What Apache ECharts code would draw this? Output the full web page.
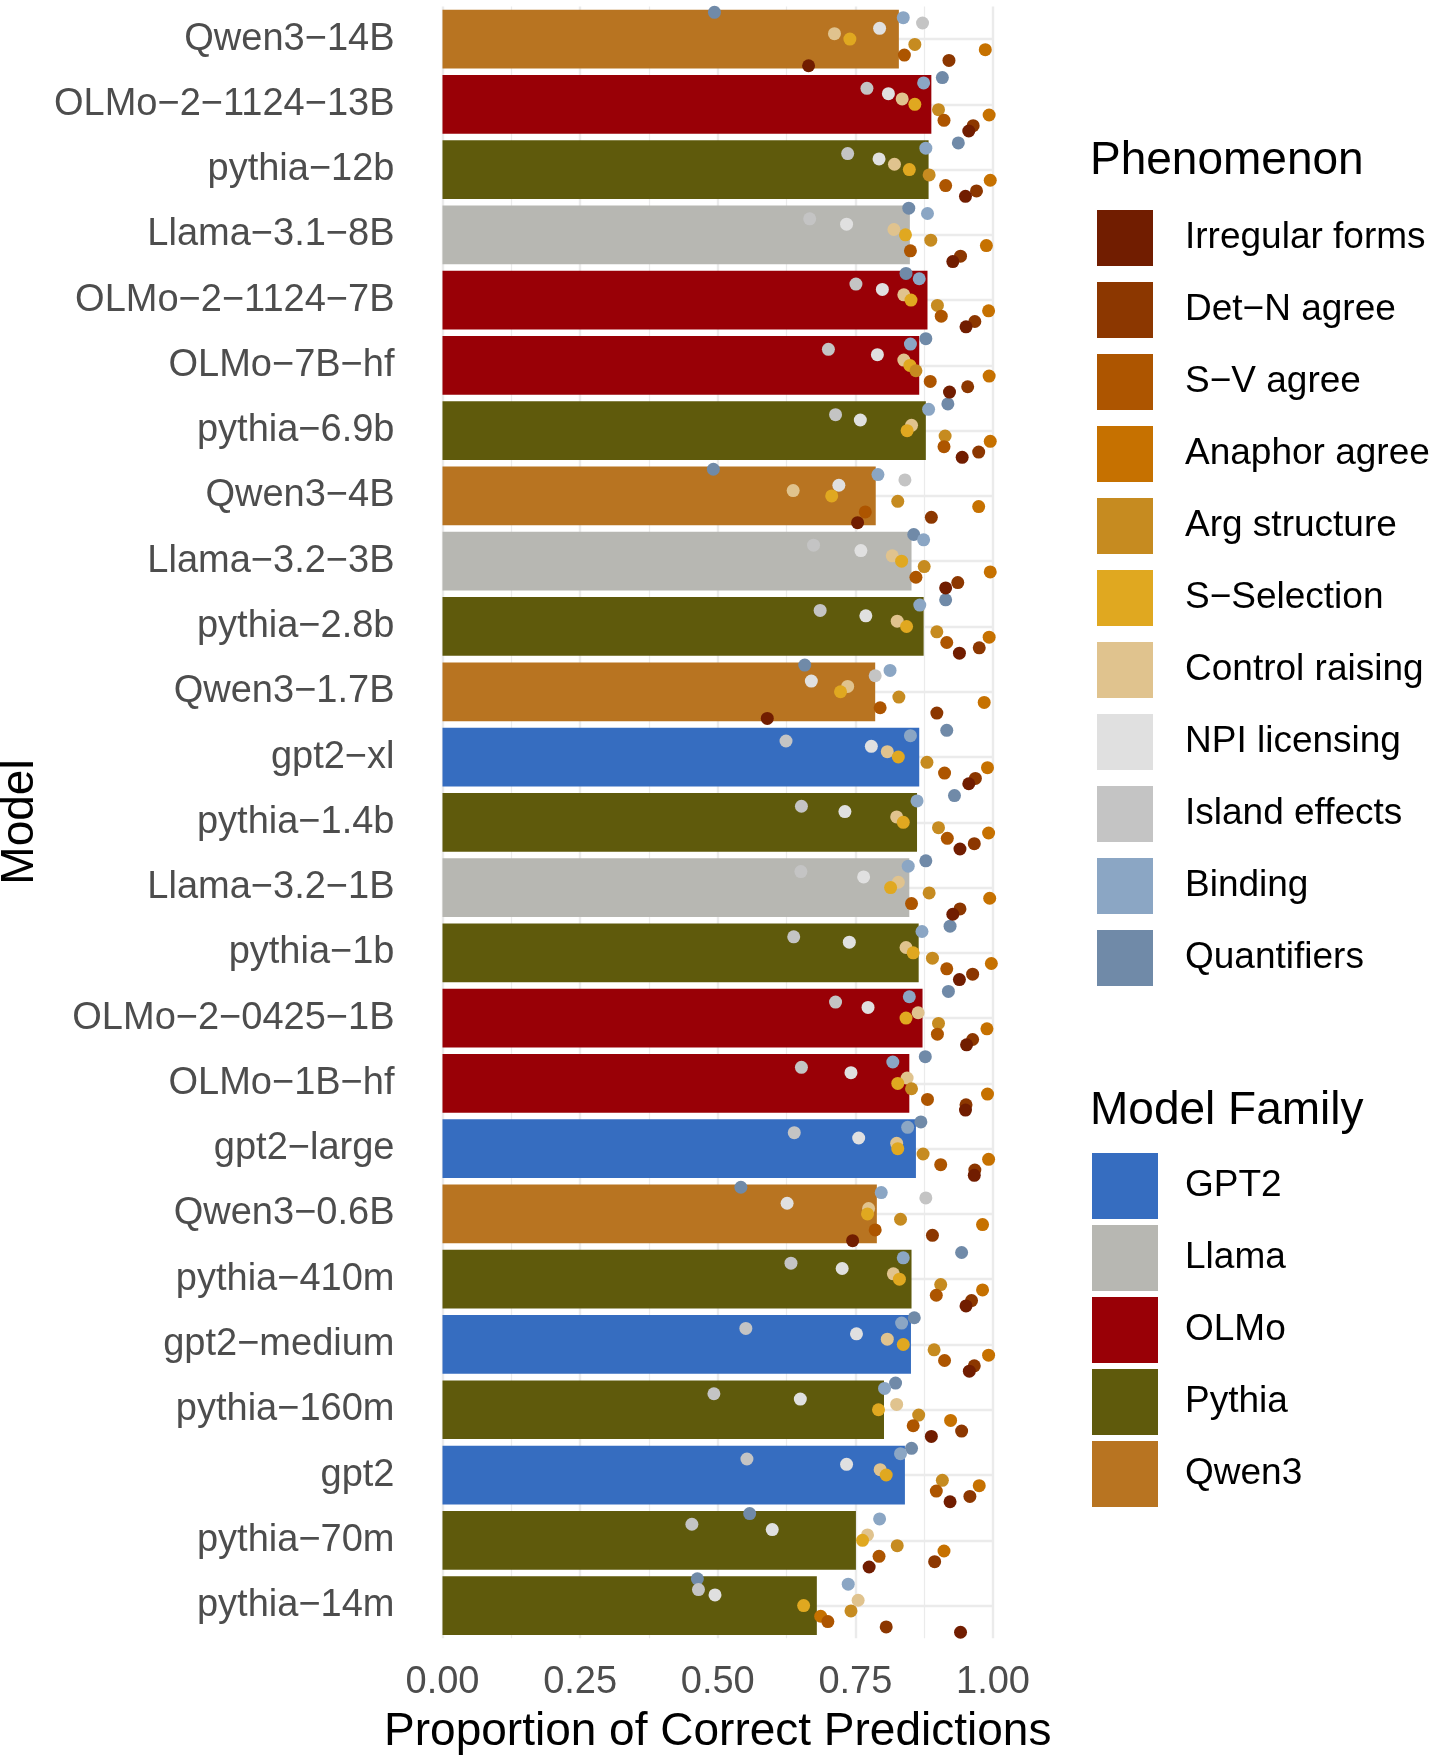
<!DOCTYPE html>
<html>
<head>
<meta charset="utf-8">
<title>Proportion of correct predictions by model</title>
<script src="https://cdn.jsdelivr.net/npm/echarts@6/dist/echarts.min.js"></script>
<style>
  html, body { margin: 0; padding: 0; background: #fff; }
  #chart { width: 1431px; height: 1755px; }
</style>
</head>
<body>
<div id="chart"></div>
<script>
// models, top to bottom
var models = ['Qwen3−14B', 'OLMo−2−1124−13B', 'pythia−12b', 'Llama−3.1−8B', 'OLMo−2−1124−7B', 'OLMo−7B−hf',
  'pythia−6.9b', 'Qwen3−4B', 'Llama−3.2−3B', 'pythia−2.8b', 'Qwen3−1.7B', 'gpt2−xl', 'pythia−1.4b',
  'Llama−3.2−1B', 'pythia−1b', 'OLMo−2−0425−1B', 'OLMo−1B−hf', 'gpt2−large', 'Qwen3−0.6B', 'pythia−410m',
  'gpt2−medium', 'pythia−160m', 'gpt2', 'pythia−70m', 'pythia−14m'];
var modelFamily = ['Qwen3', 'OLMo', 'Pythia', 'Llama', 'OLMo', 'OLMo', 'Pythia', 'Qwen3', 'Llama', 'Pythia',
  'Qwen3', 'GPT2', 'Pythia', 'Llama', 'Pythia', 'OLMo', 'OLMo', 'GPT2', 'Qwen3', 'Pythia', 'GPT2', 'Pythia',
  'GPT2', 'Pythia', 'Pythia'];
var overall = [0.829, 0.888, 0.883, 0.849, 0.881, 0.866, 0.878, 0.787, 0.852, 0.874, 0.786, 0.866, 0.862,
  0.848, 0.865, 0.872, 0.848, 0.860, 0.789, 0.852, 0.851, 0.802, 0.840, 0.751, 0.680];

// per phenomenon scores, same model order
var irregularForms = [0.665, 0.956, 0.950, 0.927, 0.951, 0.921, 0.944, 0.754, 0.914, 0.939, 0.590, 0.956, 0.940, 0.927, 0.939, 0.952, 0.950, 0.966, 0.745, 0.951, 0.957, 0.888, 0.922, 0.775, 0.941];
var detNAgree = [0.920, 0.964, 0.970, 0.941, 0.967, 0.954, 0.974, 0.888, 0.936, 0.975, 0.898, 0.968, 0.966, 0.940, 0.963, 0.963, 0.951, 0.967, 0.890, 0.961, 0.966, 0.943, 0.958, 0.894, 0.806];
var svAgree = [0.839, 0.911, 0.914, 0.850, 0.906, 0.886, 0.911, 0.768, 0.860, 0.916, 0.795, 0.912, 0.917, 0.852, 0.916, 0.899, 0.881, 0.905, 0.786, 0.897, 0.912, 0.855, 0.897, 0.793, 0.700];
var anaphorAgree = [0.986, 0.993, 0.995, 0.988, 0.992, 0.993, 0.995, 0.974, 0.995, 0.993, 0.984, 0.990, 0.992, 0.994, 0.997, 0.989, 0.990, 0.992, 0.981, 0.981, 0.992, 0.923, 0.975, 0.911, 0.687];
var argStructure = [0.858, 0.901, 0.884, 0.887, 0.899, 0.860, 0.913, 0.827, 0.875, 0.898, 0.829, 0.880, 0.901, 0.884, 0.890, 0.901, 0.852, 0.873, 0.832, 0.905, 0.893, 0.865, 0.908, 0.826, 0.742];
var sSelection = [0.740, 0.858, 0.848, 0.841, 0.851, 0.849, 0.844, 0.707, 0.834, 0.843, 0.723, 0.828, 0.837, 0.814, 0.855, 0.842, 0.827, 0.827, 0.772, 0.830, 0.837, 0.792, 0.806, 0.763, 0.656];
var controlRaising = [0.712, 0.835, 0.821, 0.820, 0.838, 0.838, 0.852, 0.637, 0.817, 0.826, 0.736, 0.808, 0.825, 0.828, 0.842, 0.864, 0.844, 0.825, 0.774, 0.819, 0.808, 0.825, 0.795, 0.772, 0.755];
var npiLicensing = [0.794, 0.810, 0.793, 0.734, 0.799, 0.790, 0.759, 0.720, 0.760, 0.769, 0.670, 0.779, 0.731, 0.765, 0.739, 0.773, 0.742, 0.756, 0.626, 0.726, 0.752, 0.650, 0.734, 0.599, 0.495];
var islandEffects = [0.872, 0.771, 0.736, 0.667, 0.751, 0.701, 0.714, 0.840, 0.674, 0.686, 0.786, 0.624, 0.652, 0.651, 0.638, 0.714, 0.652, 0.639, 0.878, 0.633, 0.551, 0.493, 0.553, 0.453, 0.465];
var binding = [0.837, 0.874, 0.878, 0.881, 0.866, 0.850, 0.883, 0.791, 0.874, 0.867, 0.813, 0.850, 0.862, 0.846, 0.871, 0.848, 0.818, 0.845, 0.797, 0.837, 0.834, 0.803, 0.832, 0.794, 0.737];
var quantifiers = [0.494, 0.908, 0.937, 0.847, 0.842, 0.878, 0.918, 0.492, 0.856, 0.914, 0.658, 0.916, 0.930, 0.878, 0.922, 0.919, 0.877, 0.869, 0.542, 0.943, 0.857, 0.823, 0.852, 0.558, 0.463];

var phenomena = ['Irregular forms', 'Det−N agree', 'S−V agree', 'Anaphor agree', 'Arg structure', 'S−Selection',
  'Control raising', 'NPI licensing', 'Island effects', 'Binding', 'Quantifiers'];
var phenomenonValues = [irregularForms, detNAgree, svAgree, anaphorAgree, argStructure, sSelection,
  controlRaising, npiLicensing, islandEffects, binding, quantifiers];
var phenomenonColors = ['#711d00', '#8c3700', '#ad5500', '#c67100', '#c68b20', '#e0a820',
  '#e0c38e', '#e0e0e0', '#c4c4c4', '#8ba6c4', '#708aa8'];

var families = ['GPT2', 'Llama', 'OLMo', 'Pythia', 'Qwen3'];
var familyColors = ['#366dc0', '#b7b7b2', '#990006', '#5f5a0c', '#b87421'];

var FONT = '"Liberation Sans", Arial, Helvetica, sans-serif';
var DODGE = 0.9 / 11; // vertical spacing of the dodged points inside a row

var series = [];

// horizontal grid lines at each model row (behind the bars)
series.push({
  type: 'scatter',
  yAxisIndex: 1,
  data: [],
  silent: true,
  markLine: {
    silent: true,
    z: 1,
    symbol: 'none',
    label: { show: false },
    lineStyle: { color: '#ebebeb', width: 2.4, type: 'solid' },
    data: models.map(function (m, i) { return { yAxis: i }; })
  }
});

// bars, one series per family
families.forEach(function (fam, f) {
  series.push({
    name: fam,
    type: 'bar',
    stack: 'fam',
    barWidth: '90%',
    z: 2,
    itemStyle: { color: familyColors[f] },
    data: overall.map(function (v, i) { return modelFamily[i] === fam ? v : '-'; })
  });
});

// points, drawn from Quantifiers (top of row) down to Irregular forms (bottom, on top)
for (var k = phenomena.length - 1; k >= 0; k--) {
  (function (k) {
    var off = (5 - k) * DODGE;
    series.push({
      name: phenomena[k],
      type: 'scatter',
      yAxisIndex: 1,
      symbolSize: 13,
      clip: false,
      z: 3,
      itemStyle: { color: phenomenonColors[k], opacity: 1 },
      data: phenomenonValues[k].map(function (v, i) { return [v, i + off]; })
    });
  })(k);
}

var chart = echarts.init(document.getElementById('chart'));
chart.setOption({
  animation: false,
  backgroundColor: '#ffffff',
  grid: { left: 442.5, right: 438, top: 6.4, bottom: 116.8, outerBoundsMode: 'none' },
  xAxis: {
    type: 'value',
    min: 0,
    max: 1,
    interval: 0.25,
    name: 'Proportion of Correct Predictions',
    nameLocation: 'middle',
    nameGap: 71,
    nameTextStyle: { fontSize: 46, color: '#000', fontFamily: FONT },
    axisLine: { show: false },
    axisTick: { show: false },
    axisLabel: {
      fontSize: 38, color: '#4d4d4d', fontFamily: FONT, margin: 25,
      formatter: function (v) { return v.toFixed(2); }
    },
    splitLine: { show: true, lineStyle: { color: '#ebebeb', width: 2.4 } },
    minorTick: { show: false, splitNumber: 2 },
    minorSplitLine: { show: true, lineStyle: { color: '#ebebeb', width: 1.2 } }
  },
  yAxis: [
    {
      type: 'category',
      data: models,
      inverse: true,
      axisLine: { show: false },
      axisTick: { show: false },
      splitLine: { show: false },
      axisLabel: { fontSize: 38, color: '#4d4d4d', fontFamily: FONT, margin: 48, padding: [5, 0, 0, 0] }
    },
    {
      type: 'value',
      min: -0.5,
      max: 24.5,
      inverse: true,
      show: false
    }
  ],
  legend: [
    {
      data: phenomena,
      orient: 'vertical',
      left: 1097,
      top: 210,
      padding: 0,
      icon: 'rect',
      itemWidth: 56,
      itemHeight: 56,
      itemGap: 16,
      selectedMode: false,
      textStyle: { fontSize: 37, color: '#000', fontFamily: FONT, padding: [4, 0, 0, 27] }
    },
    {
      data: families,
      orient: 'vertical',
      left: 1092,
      top: 1153,
      padding: 0,
      icon: 'rect',
      itemWidth: 66,
      itemHeight: 66,
      itemGap: 6,
      selectedMode: false,
      textStyle: { fontSize: 37, color: '#000', fontFamily: FONT, padding: [4, 0, 0, 22] }
    }
  ],
  graphic: [
    {
      type: 'text', x: 1090, y: 161,
      style: { text: 'Phenomenon', font: '46px ' + FONT, fill: '#000', textAlign: 'left', textVerticalAlign: 'middle' }
    },
    {
      type: 'text', x: 1090, y: 1111,
      style: { text: 'Model Family', font: '46px ' + FONT, fill: '#000', textAlign: 'left', textVerticalAlign: 'middle' }
    },
    {
      type: 'text', x: 20, y: 822, rotation: Math.PI / 2,
      style: { text: 'Model', font: '46px ' + FONT, fill: '#000', textAlign: 'center', textVerticalAlign: 'middle' }
    }
  ],
  series: series
});
</script>
</body>
</html>
